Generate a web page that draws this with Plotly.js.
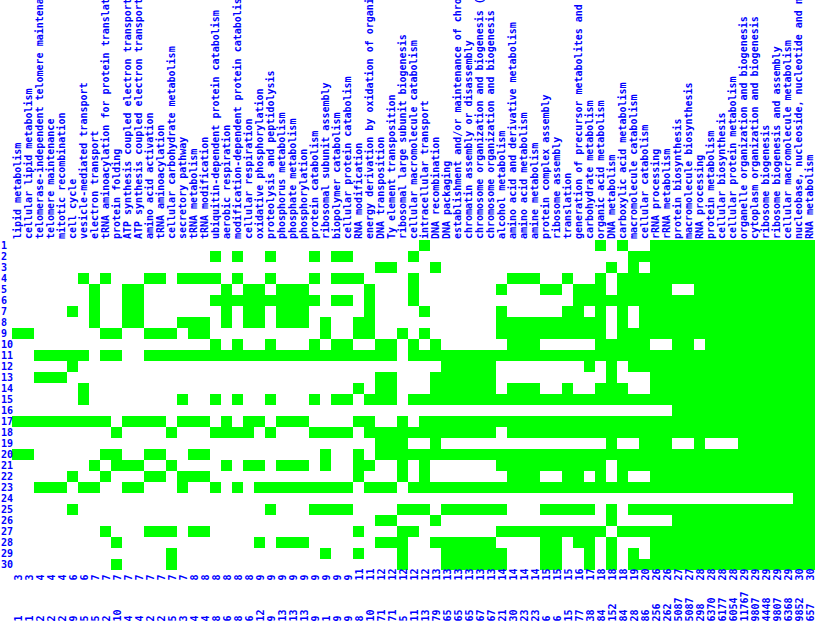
<!DOCTYPE html>
<html>
<head>
<meta charset="utf-8">
<script src="https://cdn.plot.ly/plotly-3.0.1.min.js"></script>
<style>html,body{margin:0;padding:0;background:#fff;}#chart{width:815px;height:624px;}</style>
</head>
<body>
<div id="chart"></div>
<script>
// GO term categories (columns)
var terms = [
 "lipid metabolism","cellular lipid metabolism","telomerase-independent telomere maintenance","telomere maintenance",
 "mitotic recombination","cell cycle","vesicle-mediated transport","electron transport",
 "tRNA aminoacylation for protein translation","protein folding","ATP synthesis coupled electron transport",
 "ATP synthesis coupled electron transport (sensu Eukaryota)","amino acid activation","tRNA aminoacylation",
 "cellular carbohydrate metabolism","secretory pathway","tRNA metabolism","tRNA modification",
 "ubiquitin-dependent protein catabolism","aerobic respiration","modification-dependent protein catabolism",
 "cellular respiration","oxidative phosphorylation","proteolysis and peptidolysis","phosphorus metabolism",
 "phosphate metabolism","phosphorylation","protein catabolism","ribosomal subunit assembly","biopolymer catabolism",
 "cellular protein catabolism","RNA modification","energy derivation by oxidation of organic compounds",
 "DNA transposition","Ty element transposition","ribosomal large subunit biogenesis",
 "cellular macromolecule catabolism","intracellular transport","DNA recombination","DNA packaging",
 "establishment and/or maintenance of chromatin architecture","chromatin assembly or disassembly",
 "chromosome organization and biogenesis (sensu Eukaryota)","chromosome organization and biogenesis",
 "alcohol metabolism","amino acid and derivative metabolism","amino acid metabolism","amine metabolism",
 "protein complex assembly","ribosome assembly","translation","generation of precursor metabolites and energy",
 "carbohydrate metabolism","organic acid metabolism","DNA metabolism","carboxylic acid metabolism",
 "macromolecule catabolism","cellular catabolism","rRNA processing","rRNA metabolism","protein biosynthesis",
 "macromolecule biosynthesis","RNA processing","protein metabolism","cellular biosynthesis",
 "cellular protein metabolism","organelle organization and biogenesis","cytoplasm organization and biogenesis",
 "ribosome biogenesis","ribosome biogenesis and assembly","cellular macromolecule metabolism",
 "nucleobase, nucleoside, nucleotide and nucleic acid metabolism","RNA metabolism"
];

// number of clusters in which each term is enriched (first bottom row)
var clusterCounts = [3,3,4,4,4,6,6,7,7,7,7,7,7,7,7,7,8,8,
 8,8,8,8,9,9,9,9,9,9,9,9,9,11,11,12,12,12,
 12,12,13,13,13,13,13,13,14,14,14,14,15,15,15,16,17,18,18,
 18,19,20,26,26,27,27,28,28,28,28,29,29,29,29,29,30,30];

// second bottom row of numbers
var termSizes = [1,1,2,2,2,9,5,5,2,10,4,4,2,2,5,3,4,4,
 8,6,8,6,12,9,13,13,13,9,1,9,9,8,10,71,71,5,
 11,13,79,65,65,65,67,67,21,30,23,23,6,6,15,77,38,84,152,
 84,28,86,256,262,5087,5087,298,6370,6177,6054,11767,9807,4448,9807,6368,9852,657];

// clusters (rows): enriched term columns (1-based) for each cluster
var clusterRows = [
 "38,54,56,59-73",
 "19,21,24,28,30,31,37,57-73",
 "34,35,39,55,57,59-73",
 "7,9,13,14,16-19,21,24,28,30-32,37,46-48,51,54,56-73",
 "8,11,12,20,22,23,25-27,33,37,45,49,50,52-54,56-60,63-73",
 "8,11,12,19-28,30,31,33,37,52-73",
 "6,8,11,12,20,22,23,25-27,33,38,45,51,52,54,56,58-73",
 "8,11,12,16-18,20,22,23,25-27,29,32,33,45-54,56,58-73",
 "1,2,9,10,13-15,17,18,29,32,33,36,38,45-54,56-73",
 "19,21,24,28,30,31,34,35,37,39,46-48,54-58,61,62,64-73",
 "3-7,9,10,13-35,37-73",
 "6,40-44,53,55,57-73",
 "3-5,34,35,39-44,55,59-73",
 "7,32,34,35,39-44,46-48,51,54-56,59-73",
 "7,16,19,21,24,28,30,31,33-35,37-73",
 "61-73",
 "1-9,11-14,16-18,20,22,23,25-27,32,33,36,38-73",
 "10,15,19-22,24,28-31,33-44,46-73",
 "34-36,39,55,58-60,63,67-73",
 "1,2,9,10,13,14,17,18,29,32,34-73",
 "8,10-12,15,20,22,23,25-27,29,32,33,36,38,45-54,56-73",
 "6,9,13,14,16-18,32,36,38,46-48,51,52,54,56,59-73",
 "3-5,7,8,11,12,16,19,21,23-31,33-35,37-73",
 "72,73",
 "6,24,28-31,36-38,40-45,49-53,55,57-73",
 "34,35,39,55,61-73",
 "9,13-15,17,18,32,36,37,45-54,56-73",
 "10,23,25-27,34-36,39-44,49,50,52,53,55,59-73",
 "15,29,32,36,40-45,49,50,53,55,57,59-73",
 "10,15,36,40-45,49,50,53,55,57-73"
];

var nCols = terms.length, nRows = clusterRows.length;
function parseRow(s){
  var row = new Array(nCols).fill(0);
  s.split(',').forEach(function(p){
    var ab = p.split('-').map(Number);
    var a = ab[0], b = ab.length > 1 ? ab[1] : ab[0];
    for (var c = a; c <= b; c++) row[c-1] = 1;
  });
  return row;
}
var z = clusterRows.map(parseRow);
var xs = terms.map(function(_, i){ return i + 1; });
var ys = clusterRows.map(function(_, i){ return i + 1; });

var FONT = {family: "DejaVu Sans Mono, Liberation Mono, monospace", size: 10, color: "#0000ff", weight: "bold"};

var annotations = [];
ys.forEach(function(r){
  annotations.push({x: 0, xref: 'paper', xanchor: 'left', xshift: -12, y: r, yref: 'y', yanchor: 'middle',
    text: String(r), showarrow: false, font: FONT, borderpad: 0});
});
xs.forEach(function(c, i){
  annotations.push({x: c, xref: 'x', y: 0, yref: 'paper', yanchor: 'bottom', yshift: -12, textangle: -90,
    text: String(clusterCounts[i]), showarrow: false, font: FONT, borderpad: 0});
  annotations.push({x: c, xref: 'x', y: 0, yref: 'paper', yanchor: 'bottom', yshift: -53, textangle: -90,
    text: String(termSizes[i]), showarrow: false, font: FONT, borderpad: 0});
});

var data = [{
  type: 'heatmap', z: z, x: xs, y: ys,
  colorscale: [[0, '#ffffff'], [1, '#00ff00']], zmin: 0, zmax: 1,
  showscale: false, hoverinfo: 'skip'
}];

var layout = {
  width: 815, height: 624,
  margin: {l: 12, r: 0, t: 240, b: 54, pad: 0},
  paper_bgcolor: '#ffffff', plot_bgcolor: '#ffffff',
  showlegend: false,
  xaxis: {range: [0.5, nCols + 0.5], side: 'top', tickmode: 'array', tickvals: xs, ticktext: terms,
    tickangle: -90, tickfont: FONT, ticks: '', showgrid: false, zeroline: false, showline: false, automargin: false},
  yaxis: {range: [nRows + 0.5, 0.5], showticklabels: false, ticks: '', showgrid: false, zeroline: false,
    showline: false, automargin: false},
  annotations: annotations
};

Plotly.newPlot('chart', data, layout, {staticPlot: true, displayModeBar: false});
</script>
</body>
</html>
